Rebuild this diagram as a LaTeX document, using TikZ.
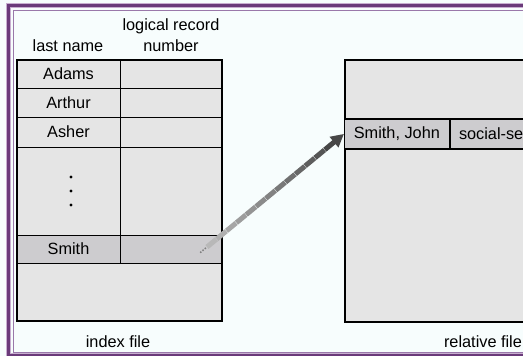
\documentclass[tikz,border=0pt]{standalone}
\usepackage{fontspec}
\setmainfont{Liberation Sans}
\usetikzlibrary{calc,arrows.meta}
\definecolor{bgpaper}{HTML}{F7FDFD}
\definecolor{cellgray}{HTML}{E5E5E5}
\definecolor{hitgray}{HTML}{CDCCCF}
\definecolor{framepurple}{HTML}{6A3A7A}
\definecolor{framelilac}{HTML}{C8AED0}
\definecolor{framethin}{HTML}{9A78AA}

\begin{document}
\begin{tikzpicture}[x=1pt, y=-1pt, every node/.style={font=\fontsize{16.3}{18}\selectfont, inner sep=0pt},
  namecell/.style={draw=black, line width=0.8pt, fill=cellgray, minimum width=103pt},
  numcell/.style={draw=black, line width=0.8pt, fill=cellgray, minimum width=102pt}]
% page and slide frame
\useasboundingbox (0,0) rectangle (523,356);
\clip (0,0) rectangle (523,356);
\fill[bgpaper] (0,0) rectangle (523,356);
\draw[framelilac, line width=4.5pt] (530,5.5) -- (8.5,5.5) -- (8.5,355) -- (530,355);
\draw[framepurple, line width=2.5pt] (530,5.5) -- (8.5,5.5) -- (8.5,355) -- (530,355);
\draw[framethin, line width=1pt] (530,10.5) -- (13.5,10.5) -- (13.5,352) -- (530,352);
% column heads
\node (hdlast) at (68,46) {last name};
\node (hdlog) at (171,26) {logical record};
\node (hdnum) at (171,46) {number};
% index file
\node[namecell, minimum height=28pt] (adams) at (68.5,74) {Adams};
\node[numcell, minimum height=28pt] (adamsno) at (171,74) {};
\node[namecell, minimum height=29pt] (arthur) at (68.5,102.5) {Arthur};
\node[numcell, minimum height=29pt] (arthurno) at (171,102.5) {};
\node[namecell, minimum height=30pt] (asher) at (68.5,132) {Asher};
\node[numcell, minimum height=30pt] (asherno) at (171,132) {};
\node[namecell, minimum height=88pt] (gap) at (68.5,191) {};
\node[numcell, minimum height=88pt] (gapno) at (171,191) {};
\node[namecell, fill=hitgray, minimum height=28pt] (smith) at (68.5,249) {Smith};
\node[numcell, fill=hitgray, minimum height=28pt] (smithno) at (171,249) {};
\node[namecell, minimum width=205pt, minimum height=58pt] (rest) at (119.5,292) {};
\draw[line width=2pt] (adams.north west) rectangle (rest.south east);
% dots
\foreach \dy in {-14,0,14}
  \fill ($(gap.center)+(2.5,\dy)$) circle (1.7pt);
% relative file
\node[draw=black, line width=2pt, fill=cellgray, anchor=north west,
  minimum width=220pt, minimum height=262pt] (relfile) at (344,59) {};
\node[draw=black, line width=0.8pt, fill=hitgray, anchor=north west,
  minimum width=105pt, minimum height=29pt] (smithjohn) at (344,119) {Smith, John};
\node[draw=black, line width=0.8pt, fill=hitgray, anchor=north west,
  minimum width=100pt, minimum height=29pt] (ssn) at (smithjohn.north east) {};
\node[anchor=west] (ssntext) at ($(ssn.west)+(9,0)$) {social-se};
\draw[line width=2pt] (smithjohn.north west) -- (ssn.north east);
\draw[line width=2pt] (smithjohn.south west) -- (ssn.south east);
% captions
\node (idxcap) at (118,342) {index file};
\node (relcap) at (483,342) {relative file};
% pointer
\coordinate (ptr) at (207,247);
\coordinate (tipbase) at ($(ptr)!0.86!(smithjohn.west)$);
\draw[black!50, line width=1.5pt, dash pattern=on 1.5pt off 1.5pt] ($(ptr)!-0.05!(smithjohn.west)$) -- (ptr);
\foreach \i in {0,...,11} {
  \pgfmathsetmacro\gr{28+3.5*\i}
  \draw[line width=5pt, black!\gr] ($(ptr)!\i/12!(tipbase)$) -- ($(ptr)!\i/12+1/12.5!(tipbase)$);
}
\draw[line width=5pt, black!72, -{Triangle[length=13pt,width=13pt]}] (tipbase) -- (smithjohn.west);
\end{tikzpicture}
\end{document}
